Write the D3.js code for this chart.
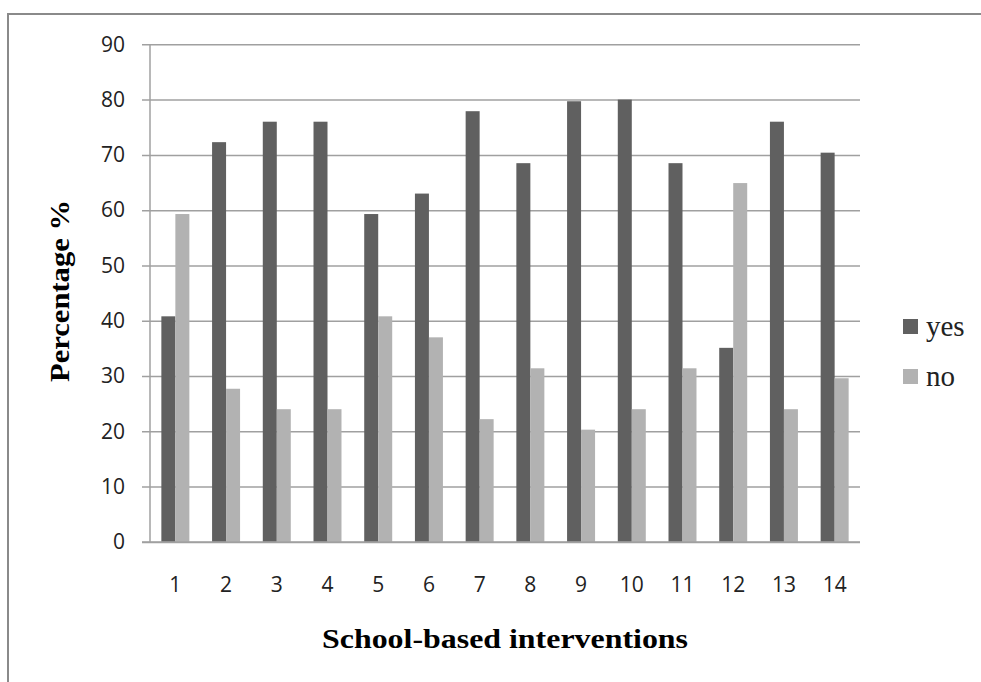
<!DOCTYPE html>
<html>
<head>
<meta charset="utf-8">
<script src="https://cdn.jsdelivr.net/npm/d3@7"></script>
<style>
  html, body { margin: 0; padding: 0; background: #fff; }
  svg { display: block; }
</style>
</head>
<body>
<svg id="chart" width="981" height="682"></svg>
<script>
// Share of schools reporting each intervention (yes / no), in percent
const categories = ["1", "2", "3", "4", "5", "6", "7", "8", "9", "10", "11", "12", "13", "14"];
const seriesNames = ["yes", "no"];
const yesValues = [40.8, 72.3, 76.0, 76.0, 59.3, 63.0, 77.9, 68.5, 79.7, 80.0, 68.5, 35.1, 76.0, 70.4];
const noValues  = [59.3, 27.7, 24.0, 24.0, 40.8, 37.0, 22.2, 31.4, 20.3, 24.0, 31.4, 64.9, 24.0, 29.6];
const yTicks = [0, 10, 20, 30, 40, 50, 60, 70, 80, 90];

const colors = { yes: "#606060", no: "#b2b2b2" };

const svg = d3.select("#chart");
const W = 981, H = 682;

svg.append("rect").attr("width", W).attr("height", H).attr("fill", "#fff");

// outer chart-area frame (left and top edges visible)
svg.append("path")
  .attr("d", `M8,${H} L8,14 L${W},14`)
  .attr("fill", "none")
  .attr("stroke", "#8a8a8a")
  .attr("stroke-width", 2);

const plot = { left: 150, right: 860, top: 44.3, bottom: 541.9 };

const x = d3.scaleBand()
  .domain(categories)
  .range([plot.left, plot.right])
  .paddingInner(0.448)
  .paddingOuter(0.224);

const xSub = d3.scaleBand()
  .domain(seriesNames)
  .range([0, x.bandwidth()]);

const y = d3.scaleLinear()
  .domain([0, 90])
  .range([plot.bottom, plot.top]);

// horizontal gridlines with left tick stubs
const yAxis = d3.axisLeft(y)
  .tickValues(yTicks)
  .tickSize(-(plot.right - plot.left))
  .tickSizeOuter(0)
  .tickPadding(25)
  .tickFormat(d3.format("d"));

const gy = svg.append("g")
  .attr("transform", `translate(${plot.left},0)`)
  .call(yAxis);
gy.select(".domain").remove();
gy.selectAll(".tick line")
  .attr("x1", -8)
  .attr("stroke", "#a0a0a0")
  .attr("stroke-width", 1.5);
gy.selectAll(".tick text")
  .attr("font-family", "'Open Sans', sans-serif")
  .attr("font-size", 21)
  .attr("fill", "#222");

// vertical axis line
svg.append("line")
  .attr("x1", plot.left).attr("x2", plot.left)
  .attr("y1", plot.top).attr("y2", plot.bottom)
  .attr("stroke", "#a0a0a0")
  .attr("stroke-width", 1.5);

// bars
const rows = categories.map((c, i) => ({ cat: c, yes: yesValues[i], no: noValues[i] }));

const groups = svg.append("g")
  .selectAll("g")
  .data(rows)
  .join("g")
  .attr("transform", d => `translate(${x(d.cat)},0)`);

groups.selectAll("rect")
  .data(d => seriesNames.map(k => ({ key: k, value: d[k] })))
  .join("rect")
  .attr("x", d => xSub(d.key))
  .attr("y", d => y(d.value))
  .attr("width", xSub.bandwidth())
  .attr("height", d => y(0) - y(d.value))
  .attr("fill", d => colors[d.key]);

// baseline on top of the bars
svg.append("line")
  .attr("x1", plot.left - 8).attr("x2", plot.right)
  .attr("y1", y(0)).attr("y2", y(0))
  .attr("stroke", "#a0a0a0")
  .attr("stroke-width", 1.5);

// category labels
const xAxis = d3.axisBottom(x).tickSize(0).tickPadding(0);
const gx = svg.append("g")
  .attr("transform", `translate(0,${plot.bottom})`)
  .call(xAxis);
gx.select(".domain").remove();
gx.selectAll(".tick text")
  .attr("dy", null)
  .attr("y", 50)
  .attr("font-family", "'Open Sans', sans-serif")
  .attr("font-size", 21)
  .attr("fill", "#222");

// axis titles
svg.append("text")
  .attr("x", 505)
  .attr("y", 648)
  .attr("text-anchor", "middle")
  .attr("font-family", "'Liberation Serif', 'Times New Roman', serif")
  .attr("font-weight", "bold")
  .attr("font-size", 28)
  .attr("textLength", 366)
  .attr("lengthAdjust", "spacingAndGlyphs")
  .attr("fill", "#000")
  .text("School-based interventions");

svg.append("text")
  .attr("transform", "translate(69,291) rotate(-90)")
  .attr("text-anchor", "middle")
  .attr("font-family", "'Liberation Serif', 'Times New Roman', serif")
  .attr("font-weight", "bold")
  .attr("font-size", 27)
  .attr("textLength", 182)
  .attr("lengthAdjust", "spacingAndGlyphs")
  .attr("fill", "#000")
  .text("Percentage %");

// legend
const legend = svg.append("g")
  .selectAll("g")
  .data(seriesNames)
  .join("g")
  .attr("transform", (d, i) => `translate(903,${319 + i * 50})`);

legend.append("rect")
  .attr("width", 15)
  .attr("height", 15)
  .attr("fill", d => colors[d]);

legend.append("text")
  .attr("x", 23)
  .attr("y", 17)
  .attr("font-family", "'Liberation Serif', 'Times New Roman', serif")
  .attr("font-size", 29)
  .attr("fill", "#222")
  .text(d => d);
</script>
</body>
</html>
